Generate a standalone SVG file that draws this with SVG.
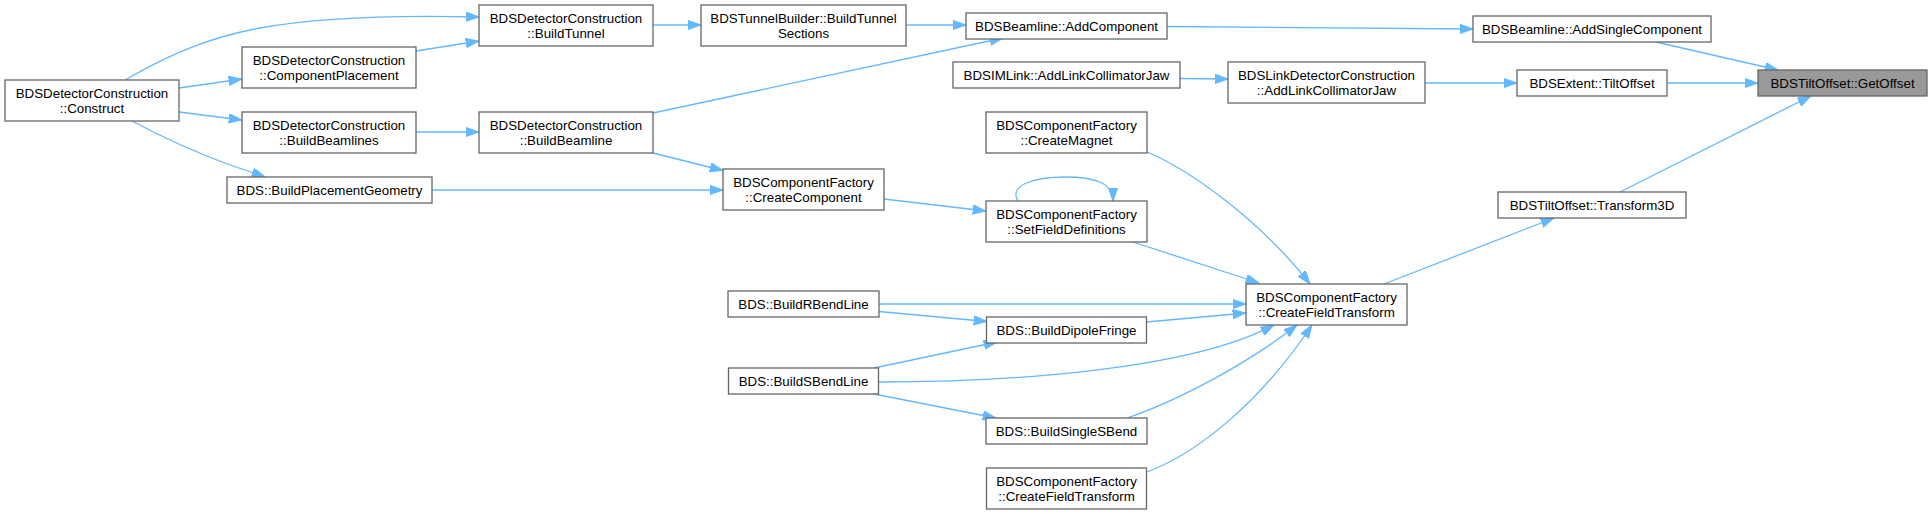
<svg xmlns="http://www.w3.org/2000/svg" width="1932" height="514" viewBox="0 0 1932 514">
<style>
.n rect{fill:#ffffff;stroke:#666666;stroke-width:1.3}
.n.hl rect{fill:#999999}
.n text{font-family:"Liberation Sans",Arial,Helvetica,sans-serif;font-size:13.33px;text-anchor:middle;fill:#000000}
#edges path{fill:none;stroke:#63b8ff;stroke-width:1.3;marker-end:url(#ah)}
</style>
<defs>
<marker id="ah" markerUnits="userSpaceOnUse" markerWidth="14" markerHeight="10" refX="13.3" refY="4.67" orient="auto">
<path d="M0,0 L13.3,4.67 L0,9.33 z" fill="#63b8ff" stroke="#63b8ff" stroke-width="1"/>
</marker>
</defs>
<rect width="1932" height="514" fill="#ffffff"/>
<g id="edges">
<path d="M125,80 C165,57 205,38 260,28 C320,17 400,15 479,17"/>
<path d="M416,51 L479,41"/>
<path d="M179,88 L242,79"/>
<path d="M179,112 L242,120"/>
<path d="M132,121 C160,136 195,152 230,165 C242,169 254,173 265,177"/>
<path d="M416,132 L479,132"/>
<path d="M653,25 L701,25"/>
<path d="M906,25 L966,25"/>
<path d="M653,113 L1003,38"/>
<path d="M653,153 L723,170.5"/>
<path d="M432,190 L723,190"/>
<path d="M884,199 L986,211"/>
<path d="M1018,201 C1008,185 1035,177 1065,177 C1095,177 1113,183 1113,201"/>
<path d="M1147,152 C1190,170 1260,220 1310,284"/>
<path d="M1133,242 L1259,283"/>
<path d="M879,304 L1246,304"/>
<path d="M879,311.5 L987,321.5"/>
<path d="M1146.5,322 L1246,313"/>
<path d="M874,368 L997,342"/>
<path d="M878,382 C1010,382 1190,370 1274,325"/>
<path d="M874,394 L996,418"/>
<path d="M1127,418 C1180,400 1250,362 1297,325"/>
<path d="M1147,472 C1200,452 1262,400 1312,325"/>
<path d="M1384,284 L1554,218"/>
<path d="M1620,192 L1811,96"/>
<path d="M1667,83 L1758,83"/>
<path d="M1656,42 L1778,70"/>
<path d="M1167,26.5 L1473,29"/>
<path d="M1180,78.5 L1228,79"/>
<path d="M1425,83 L1517,83"/>
</g>
<g id="n1" class="n"><rect x="5" y="80" width="174" height="41"/><text x="92" y="98.3">BDSDetectorConstruction</text><text x="92" y="113.3">::Construct</text></g>
<g id="n2" class="n"><rect x="242" y="47" width="174" height="41"/><text x="329" y="65.3">BDSDetectorConstruction</text><text x="329" y="80.3">::ComponentPlacement</text></g>
<g id="n3" class="n"><rect x="242" y="112" width="174" height="41"/><text x="329" y="130.3">BDSDetectorConstruction</text><text x="329" y="145.3">::BuildBeamlines</text></g>
<g id="n4" class="n"><rect x="227" y="177" width="205" height="26"/><text x="329.5" y="195">BDS::BuildPlacementGeometry</text></g>
<g id="n5" class="n"><rect x="479" y="5" width="174" height="41"/><text x="566" y="23.3">BDSDetectorConstruction</text><text x="566" y="38.3">::BuildTunnel</text></g>
<g id="n6" class="n"><rect x="479" y="112" width="174" height="41"/><text x="566" y="130.3">BDSDetectorConstruction</text><text x="566" y="145.3">::BuildBeamline</text></g>
<g id="n7" class="n"><rect x="701" y="5" width="205" height="41"/><text x="803.5" y="23.3">BDSTunnelBuilder::BuildTunnel</text><text x="803.5" y="38.3">Sections</text></g>
<g id="n8" class="n"><rect x="723" y="169" width="161" height="41"/><text x="803.5" y="187.3">BDSComponentFactory</text><text x="803.5" y="202.3">::CreateComponent</text></g>
<g id="n9" class="n"><rect x="728" y="291" width="151" height="26"/><text x="803.5" y="309">BDS::BuildRBendLine</text></g>
<g id="n10" class="n"><rect x="728.5" y="368" width="150" height="26"/><text x="803.5" y="386">BDS::BuildSBendLine</text></g>
<g id="n11" class="n"><rect x="966" y="13" width="201" height="26"/><text x="1066.5" y="31">BDSBeamline::AddComponent</text></g>
<g id="n12" class="n"><rect x="953" y="62" width="227" height="26"/><text x="1066.5" y="80">BDSIMLink::AddLinkCollimatorJaw</text></g>
<g id="n13" class="n"><rect x="986" y="112" width="161" height="41"/><text x="1066.5" y="130.3">BDSComponentFactory</text><text x="1066.5" y="145.3">::CreateMagnet</text></g>
<g id="n14" class="n"><rect x="986" y="201" width="161" height="41"/><text x="1066.5" y="219.3">BDSComponentFactory</text><text x="1066.5" y="234.3">::SetFieldDefinitions</text></g>
<g id="n15" class="n"><rect x="986.5" y="317" width="160" height="26"/><text x="1066.5" y="335">BDS::BuildDipoleFringe</text></g>
<g id="n16" class="n"><rect x="986" y="418" width="161" height="26"/><text x="1066.5" y="436">BDS::BuildSingleSBend</text></g>
<g id="n17" class="n"><rect x="986.5" y="468" width="160" height="41"/><text x="1066.5" y="486.3">BDSComponentFactory</text><text x="1066.5" y="501.3">::CreateFieldTransform</text></g>
<g id="n18" class="n"><rect x="1228" y="62" width="197" height="41"/><text x="1326.5" y="80.3">BDSLinkDetectorConstruction</text><text x="1326.5" y="95.3">::AddLinkCollimatorJaw</text></g>
<g id="n19" class="n"><rect x="1246" y="284" width="161" height="41"/><text x="1326.5" y="302.3">BDSComponentFactory</text><text x="1326.5" y="317.3">::CreateFieldTransform</text></g>
<g id="n20" class="n"><rect x="1473" y="16" width="238" height="26"/><text x="1592" y="34">BDSBeamline::AddSingleComponent</text></g>
<g id="n21" class="n"><rect x="1517" y="70" width="150" height="26"/><text x="1592" y="88">BDSExtent::TiltOffset</text></g>
<g id="n22" class="n"><rect x="1498" y="192" width="188" height="26"/><text x="1592" y="210">BDSTiltOffset::Transform3D</text></g>
<g id="n23" class="n hl"><rect x="1758" y="70" width="169" height="26"/><text x="1842.5" y="88">BDSTiltOffset::GetOffset</text></g>
</svg>
